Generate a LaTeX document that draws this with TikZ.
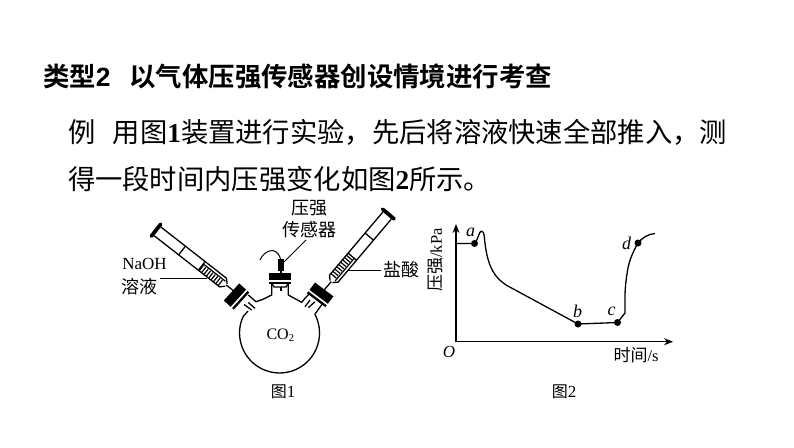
\documentclass[tikz,border=0pt]{standalone}
\usepackage{fontspec}
\usetikzlibrary{arrows.meta}
\setmainfont{Liberation Serif}
\newfontfamily\cjk{Noto Sans CJK SC}
\newfontfamily\cjkb{Noto Sans CJK SC Bold}
\newfontfamily\lsans{Liberation Sans}
\tikzset{
  x=1pt,y=-1pt,
  txt/.style={inner sep=0pt,outer sep=0pt,anchor=west,text=black},
  lab/.style={inner sep=0pt,outer sep=0pt,font=\cjk\fontsize{18}{18}\selectfont,text=black},
  thin line/.style={line width=1pt,black},
  mid line/.style={line width=1.3pt,black},
  dot/.style={circle,fill=black,inner sep=0pt,minimum size=7pt},
  ptlab/.style={inner sep=0pt,font=\itshape\fontsize{18}{18}\selectfont},
  axis/.style={line width=1.3pt,black,-{Stealth[length=9pt,width=7pt]}}
}
% syringe along +x, needle tip at the origin; #1 liquid mark, #2 plunger mark, #3 length
\newcommand{\syringe}[3]{%
  \draw[mid line] (-4,0) -- (7,0);
  \draw[mid line] (7,-1.5) -- (11,-5.5) -- (#3-2,-5.5);
  \draw[mid line] (7,1.5) -- (11,5.5) -- (#3-2,5.5);
  \draw[line width=3.8pt,black,line cap=round] (#3,-7.5) -- (#3,7.5);
  \foreach \k in {13,16,...,#1}{\draw[line width=1.2pt,black] (\k,-5.5) -- (\k,1.5);}
  \draw[line width=1.2pt,black] (10,2.5) -- (#1,2.5);
  \draw[mid line] (#1,-5.5) -- (#1,5.5);
  \draw[mid line] (#2,-5.5) -- (#2,5.5);
}
% stopper along +x (outward), centred on the origin
\newcommand{\stopper}{%
  \fill[black] (-6.5,-11.5) rectangle (7,11.5);
  \draw[line width=1.6pt,white] (-3.2,-12.5) -- (-3.2,12.5);
}
\begin{document}
\begin{tikzpicture}
\useasboundingbox (0,0) rectangle (794,447);
\fill[white] (0,0) rectangle (794,447);

% heading and question text
\node[txt] (title) at (43,76) {\cjkb\fontsize{26.4}{26}\selectfont 类型{\lsans\bfseries 2}\hspace{19pt}以气体压强传感器创设情境进行考查};
\node[txt] (line1) at (68,132) {\cjk\fontsize{27.3}{27}\selectfont 例\hspace{17.5pt}用图{\rmfamily\bfseries 1}装置进行实验，先后将溶液快速全部推入，测};
\node[txt] (line2) at (68,179.5) {\cjk\fontsize{27.3}{27}\selectfont 得一段时间内压强变化如图{\rmfamily\bfseries 2}所示。};

% flask
\coordinate (fl) at (243,316.7);
\draw[mid line] (fl) arc[start angle=204,end angle=-28,radius=40] coordinate (fr);
\draw[mid line] (fl) -- (248,311);
\draw[mid line] (fr) -- (323,303);
% shoulders
\draw[mid line,line join=round] (248.3,295) -- (256,301.7) -- (263,299.3) -- (271.7,295) -- (271.7,283);
\draw[mid line,line join=round] (288.3,283) -- (288.3,295) -- (301.7,302.3) -- (305,298.3) -- (310,293);
% inner tube stubs
\draw[mid line] (244,304.5) -- (251.7,310);
\draw[mid line] (248.3,302.5) -- (255,308.3);
\draw[mid line] (310,300) -- (305,306.7);
\draw[mid line] (315,301.7) -- (308.3,307.7);

% side stoppers
\begin{scope}[shift={(236.7,296.7)},rotate=138]
  \stopper
\end{scope}
\begin{scope}[shift={(320,295)},rotate=53]
  \stopper
\end{scope}

% centre stopper
\fill[black] (269,272.7) rectangle (290.5,283.5);
\draw[line width=1.6pt,white] (268,281) -- (291.5,281);
\draw[mid line] (271.7,283) -- (274,287) -- (286,287) -- (288.3,283);
\fill[black] (279.5,287) rectangle (281.5,291);
\fill[black] (277.5,259) rectangle (283.5,271);
\fill[black] (279.5,271) rectangle (281.5,273);
\draw[line width=1pt,black] (260,260) .. controls (263,252) and (276,244) .. (280.5,259);

% syringes
\begin{scope}[shift={(231.7,289.3)},rotate=142]
  \syringe{38}{63}{96}
\end{scope}
\begin{scope}[shift={(326.7,287)},rotate=49.8]
  \syringe{39.7}{66}{95.5}
\end{scope}

% labels of figure 1
\node[lab] (press1) at (309,208) {压强};
\node[lab] (press2) at (309,230) {传感器};
\node[inner sep=0pt,font=\fontsize{17}{17}\selectfont] (naoh) at (144.5,264) {NaOH};
\node[lab] (soln) at (139.5,287) {溶液};
\node[lab] (hcl) at (401.7,270) {盐酸};
\node[inner sep=0pt,font=\fontsize{16}{16}\selectfont] (co2) at (280.3,335) {CO\raisebox{-2.5pt}{\fontsize{10.5}{10}\selectfont 2}};
\node[inner sep=0pt,font=\cjk\fontsize{16}{16}\selectfont] (fig1) at (283,392) {图{\rmfamily\fontsize{17}{17}\selectfont 1}};
\coordinate (sensorEnd) at (283,263);
\coordinate (sensorStart) at (306,240);
\draw[thin line] (sensorStart) -- (sensorEnd);
\coordinate (naohEnd) at (207,278);
\coordinate (naohStart) at (160,278);
\draw[thin line] (naohStart) -- (naohEnd);
\coordinate (hclEnd) at (346.7,270);
\draw[thin line] (hcl.west) ++(-3,0) -- (hclEnd);

% figure 2
\coordinate (O) at (456,341.7);
\coordinate (ytip) at (456,224);
\coordinate (xtip) at (673,341.7);
\draw[axis] (O) -- (ytip);
\draw[axis] (O) -- (xtip);
\node[dot] (a) at (474.5,243.5) {};
\node[dot] (b) at (578,324) {};
\node[dot] (c) at (617.5,322.5) {};
\node[dot] (d) at (638,243) {};
\draw[mid line,line join=round] (456,243.5) -- (a.center)
  .. controls (478,240) and (479,231) .. (481.5,231)
  .. controls (485,231) and (484,240) .. (486,250)
  .. controls (488,262) and (492,274) .. (502,282)
  -- (506,285) -- (b.center) -- (c.center) -- (625,313)
  .. controls (625,300) and (624,290) .. (628,268)
  .. controls (630,258) and (634,250) .. (d.center)
  .. controls (642,238) and (648,234) .. (655,233.5);
\node[ptlab] (alab) at (470.7,232) {a};
\node[ptlab] (blab) at (577.7,311) {b};
\node[ptlab] (clab) at (611.7,311.5) {c};
\node[ptlab] (dlab) at (626.7,243) {d};
\node[inner sep=0pt,font=\itshape\fontsize{17}{17}\selectfont] (olab) at (449,351.7) {O};
\node[inner sep=0pt,rotate=90,font=\cjk\fontsize{17}{17}\selectfont] (ylab) at (436,260) {压强{\rmfamily\fontsize{16.5}{16}\selectfont /kPa}};
\node[inner sep=0pt,font=\cjk\fontsize{17}{17}\selectfont] (xlab) at (636,355.5) {时间{\rmfamily\fontsize{16.5}{16}\selectfont /s}};
\node[inner sep=0pt,font=\cjk\fontsize{16}{16}\selectfont] (fig2) at (564,392) {图{\rmfamily\fontsize{17}{17}\selectfont 2}};
\end{tikzpicture}
\end{document}
